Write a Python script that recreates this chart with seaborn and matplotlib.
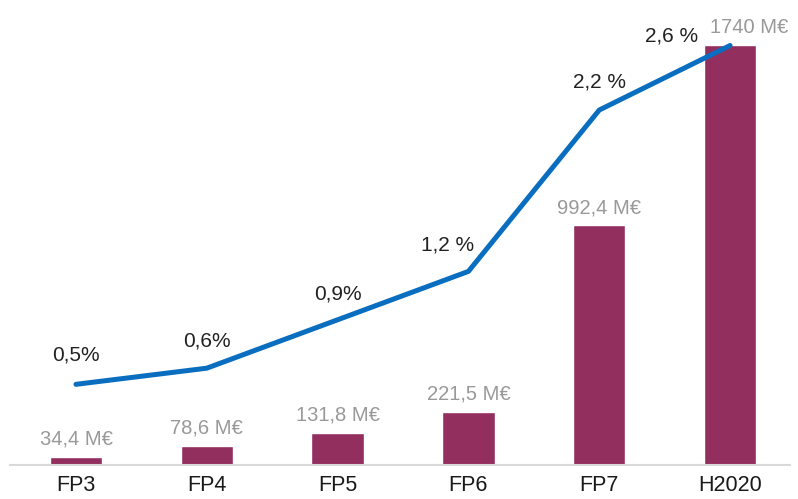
import numpy as np
import pandas as pd
import matplotlib
matplotlib.use("Agg")
import matplotlib.pyplot as plt
import seaborn as sns

categories = ["FP3", "FP4", "FP5", "FP6", "FP7", "H2020"]
budget = [34.4, 78.6, 131.8, 221.5, 992.4, 1740]
budget_labels = ["34,4 M€", "78,6 M€", "131,8 M€", "221,5 M€", "992,4 M€", "1740 M€"]
share = [0.5, 0.6, 0.9, 1.2, 2.2, 2.6]
share_labels = ["0,5%", "0,6%", "0,9%", "1,2 %", "2,2 %", "2,6 %"]

sns.set_theme(style="white")
plt.rcParams["font.family"] = ["Liberation Sans", "DejaVu Sans"]

df = pd.DataFrame({"cat": categories, "budget": budget, "share": share})
df["pos"] = np.arange(len(df))

fig = plt.figure(figsize=(7.98, 4.99), dpi=100)
ax = fig.add_axes([10 / 798, 34 / 499, 780 / 798, 455 / 499])
sns.barplot(data=df, x="cat", y="budget", color="#922F5F", saturation=1,
            width=0.4, ax=ax)
ax.set_xlim(-0.504, 5.458)
ax.set_ylim(0, 1885)
ax.set_xlabel("")
ax.set_ylabel("")
ax.set_yticks([])
for s in ["left", "right", "top"]:
    ax.spines[s].set_visible(False)
ax.spines["bottom"].set_color("#d9d9d9")
ax.spines["bottom"].set_linewidth(1.5)
ax.tick_params(axis="x", length=0, pad=7, labelsize=15.5, labelcolor="#1a1a1a")

bar_off = [(0, 6), (0, 6), (0, 6), (0, 6), (0, 6), (14, 6)]
for i, (v, lab) in enumerate(zip(budget, budget_labels)):
    ax.annotate(lab, (i, v), xytext=bar_off[i], textcoords="offset points",
                ha="center", va="bottom", fontsize=14.5, color="#999999")

ax2 = ax.twinx()
sns.lineplot(data=df, x="pos", y="share", color="#0A6EC0", linewidth=3.6, ax=ax2)
ax2.set_ylim(0, 2.82)
ax2.set_xlim(-0.504, 5.458)
ax2.set_yticks([])
ax2.set_ylabel("")
ax2.set_xlabel("")
for s in ["left", "right", "top", "bottom"]:
    ax2.spines[s].set_visible(False)

pct_off = [(0, 14), (0, 13), (0, 12), (-15, 12), (0, 13), (-42, 0)]
for i, (v, lab) in enumerate(zip(share, share_labels)):
    ax2.annotate(lab, (i, v), xytext=pct_off[i], textcoords="offset points",
                 ha="center", va="bottom", fontsize=15, color="#222222")

fig.savefig("out.png", dpi=100)
